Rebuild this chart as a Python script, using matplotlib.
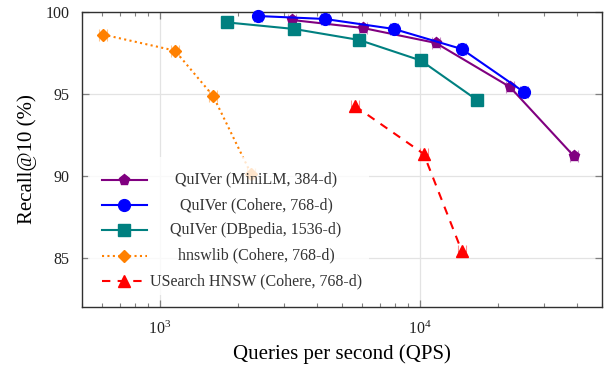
import numpy as np
import matplotlib.pyplot as plt
from matplotlib.patches import Rectangle
from matplotlib.lines import Line2D

plt.rcParams['font.family'] = ['Liberation Serif', 'DejaVu Serif']
plt.rcParams['mathtext.fontset'] = 'stix'

# Veriler (QPS, Recall@10)
minilm_qps = [3210, 6030, 11480, 22130, 38900]
minilm_rec = [99.50, 99.01, 98.10, 95.42, 91.22]

cohere_qps = [2380, 4300, 7930, 14450, 25000]
cohere_rec = [99.74, 99.56, 98.95, 97.73, 95.12]

dbpedia_qps = [1810, 3280, 5830, 10060, 16520]
dbpedia_rec = [99.35, 98.95, 98.28, 97.03, 94.63]

hnswlib_qps = [604, 1142, 1600, 2240]
hnswlib_rec = [98.61, 97.63, 94.87, 90.12]

usearch_qps = [5610, 10320, 14450]
usearch_rec = [94.26, 91.34, 85.43]

labels = ["QuIVer (MiniLM, 384-d)", "QuIVer (Cohere, 768-d)",
          "QuIVer (DBpedia, 1536-d)", "hnswlib (Cohere, 768-d)",
          "USearch HNSW (Cohere, 768-d)"]
colors = ["#800080", "#0000ff", "#008080", "#ff8000", "#ff0000"]
markers = ["p", "o", "s", "D", "^"]
msizes = [8, 8.5, 8, 6, 8]
styles = ["-", "-", "-", (0, (1, 1.6)), (0, (4, 3.5))]

series = [(minilm_qps, minilm_rec), (cohere_qps, cohere_rec),
          (dbpedia_qps, dbpedia_rec), (hnswlib_qps, hnswlib_rec),
          (usearch_qps, usearch_rec)]

fig = plt.figure(figsize=(6.05, 3.67), dpi=100)
ax = fig.add_axes([0.135, 0.163, 0.86, 0.805])

for (q, r), c, m, ms, ls in zip(series, colors, markers, msizes, styles):
    q = np.array(q, dtype=float)
    ax.errorbar(q, r, xerr=[q * 0.035, q * 0.035], fmt="none", ecolor=c,
                alpha=0.45, elinewidth=0.8, capsize=4, capthick=0.8, zorder=2)
    ax.plot(q, r, color=c, linestyle=ls, linewidth=1.5, marker=m,
            markersize=ms, markeredgecolor=c, markerfacecolor=c, zorder=3,
            clip_on=False)

ax.set_xscale("log")
ax.set_xlim(500, 50000)
ax.set_ylim(82, 100)
ax.set_yticks([85, 90, 95, 100])
ax.grid(True, which="major", color="#e3e3e3", linewidth=0.9, zorder=0)
ax.set_axisbelow(True)
ax.tick_params(axis="both", which="both", direction="in", top=True, right=True,
               color="#808080", labelsize=11.5, labelcolor="#222222")
ax.tick_params(which="major", length=5, width=0.9)
ax.tick_params(which="minor", length=3, width=0.8)
ax.tick_params(axis="x", pad=10)
ax.tick_params(axis="y", pad=9)
for s in ax.spines.values():
    s.set_linewidth(1.0)
    s.set_color("#303030")

ax.set_xlabel("Queries per second (QPS)", fontsize=15, labelpad=4)
ax.set_ylabel("Recall@10 (%)", fontsize=15, labelpad=6)

# Legend (ortalanmis metin)
ax.add_patch(Rectangle((0.012, 0.04), 0.54, 0.47, transform=ax.transAxes,
                       facecolor="white", edgecolor="none", alpha=0.8, zorder=4))
row_y = [0.431, 0.345, 0.260, 0.174, 0.088]
for lab, c, m, ms, ls, y in zip(labels, colors, markers, msizes, styles, row_y):
    ax.add_line(Line2D([0.039, 0.125], [y, y], transform=ax.transAxes,
                       color=c, linestyle=ls, linewidth=1.5, zorder=5))
    ax.add_line(Line2D([0.081], [y], transform=ax.transAxes, color=c,
                       marker=m, markersize=ms, markerfacecolor=c,
                       markeredgecolor=c, zorder=5))
    ax.text(0.335, y, lab, transform=ax.transAxes, ha="center", va="center",
            fontsize=11.5, color="#333333", zorder=6)

fig.savefig("out.png", dpi=100)
